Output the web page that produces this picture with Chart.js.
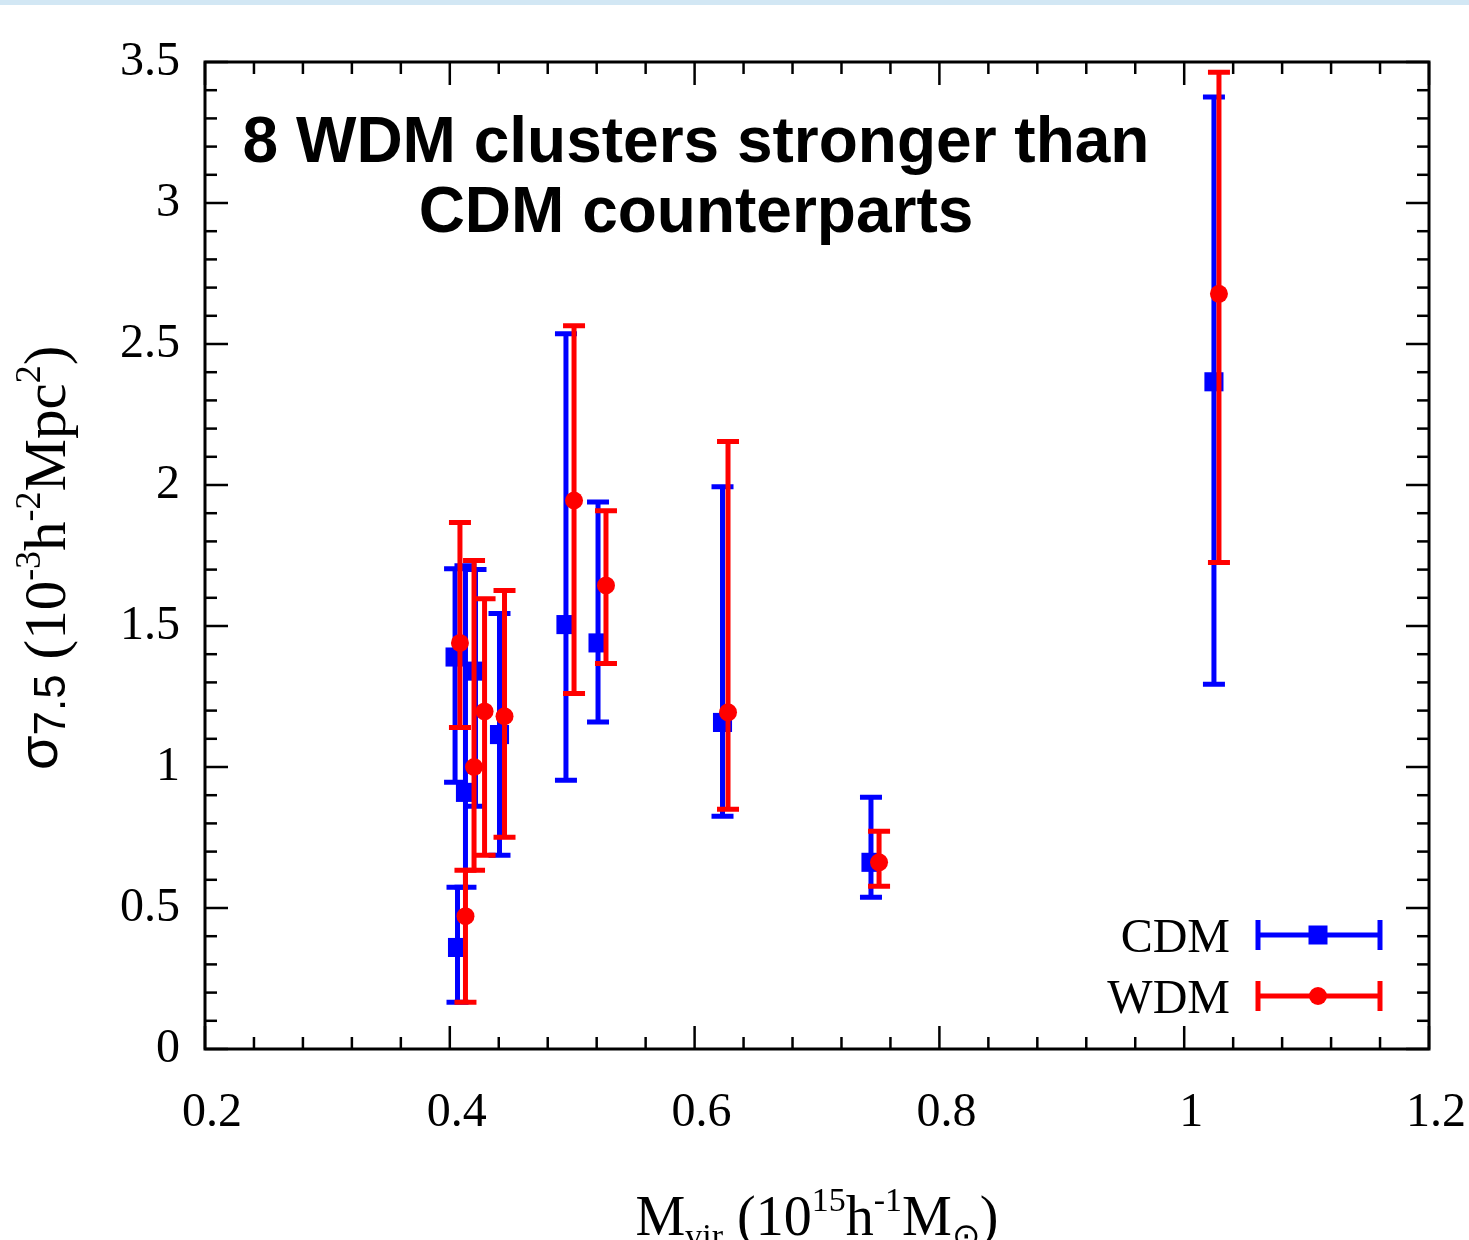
<!DOCTYPE html>
<html lang="en">
<head>
<meta charset="UTF-8">
<title>sigma 7.5 vs Mvir</title>
<script src="https://cdn.jsdelivr.net/npm/chart.js@4.4.0/dist/chart.umd.min.js"></script>
<style>
  html, body { margin: 0; padding: 0; background: #fff; }
  #wrap { position: relative; width: 1469px; height: 1240px; overflow: hidden; }
  #band { position: absolute; left: 0; top: 0; width: 1469px; height: 5px; background: #d2e7f4; }
</style>
</head>
<body>
<div id="wrap">
  <canvas id="chart" width="1469" height="1240"></canvas>
  <div id="band"></div>
</div>
<script>
const seriesNames = ["CDM", "WDM"];

// CDM clusters: mass, sigma and the low / high ends of the error bar
const cdmMass  = [0.4043, 0.4063, 0.4128, 0.4210, 0.4406, 0.4949, 0.5211, 0.6228, 0.7441, 1.0243];
const cdmSigma = [1.39, 0.36, 0.91, 1.34, 1.115, 1.505, 1.44, 1.158, 0.662, 2.366];
const cdmLow   = [0.946, 0.166, 0.574, 0.861, 0.687, 0.953, 1.16, 0.825, 0.538, 1.293];
const cdmHigh  = [1.703, 0.574, 1.714, 1.70, 1.544, 2.536, 1.94, 1.994, 0.893, 3.376];

// WDM clusters
const wdmMass  = [0.4083, 0.4128, 0.4198, 0.4284, 0.4447, 0.5015, 0.5276, 0.6273, 0.7507, 1.0284];
const wdmSigma = [1.44, 0.471, 1.0, 1.197, 1.18, 1.945, 1.644, 1.194, 0.662, 2.678];
const wdmLow   = [1.14, 0.166, 0.634, 0.687, 0.751, 1.261, 1.367, 0.850, 0.577, 1.725];
const wdmHigh  = [1.867, 0.634, 1.732, 1.597, 1.626, 2.565, 1.909, 2.154, 0.772, 3.464];

const xTicks = [0.2, 0.4, 0.6, 0.8, 1, 1.2];
const yTicks = [0, 0.5, 1, 1.5, 2, 2.5, 3, 3.5];

const titleLines = ["8 WDM clusters stronger than", "CDM counterparts"];

const SERIF = "'Liberation Serif', 'Times New Roman', serif";
const SANS = "'Liberation Sans', Arial, sans-serif";

// draws text pieces one after another (for sub/superscripts)
function drawParts(ctx, parts, x, y) {
  let cx = x;
  parts.forEach(p => {
    ctx.font = p.font;
    ctx.fillText(p.t, cx, y + (p.dy || 0));
    cx += ctx.measureText(p.t).width;
  });
  return cx - x;
}
function partsWidth(ctx, parts) {
  let w = 0;
  parts.forEach(p => { ctx.font = p.font; w += ctx.measureText(p.t).width; });
  return w;
}

const errorBarPlugin = {
  id: "errorBars",
  beforeDatasetDraw(chart, args) {
    const ds = chart.data.datasets[args.index];
    const { ctx, scales: { x, y } } = chart;
    ctx.save();
    ctx.strokeStyle = ds.borderColor;
    ctx.lineWidth = 5;
    ds.data.forEach((p, i) => {
      const px = x.getPixelForValue(p.x);
      const top = y.getPixelForValue(ds.hi[i]);
      const bot = y.getPixelForValue(ds.lo[i]);
      ctx.beginPath();
      ctx.moveTo(px, top); ctx.lineTo(px, bot);
      ctx.moveTo(px - 11, top); ctx.lineTo(px + 11, top);
      ctx.moveTo(px - 11, bot); ctx.lineTo(px + 11, bot);
      ctx.stroke();
    });
    ctx.restore();
  }
};

const framePlugin = {
  id: "frame",
  afterDraw(chart) {
    const { ctx, chartArea: a, scales: { x, y } } = chart;
    ctx.save();
    ctx.strokeStyle = "#000";
    ctx.lineWidth = 2.5;
    const seg = (x1, y1, x2, y2) => { ctx.beginPath(); ctx.moveTo(x1, y1); ctx.lineTo(x2, y2); ctx.stroke(); };
    for (let k = 0; k <= 25; k++) {
      const px = x.getPixelForValue(0.2 + k * 0.04);
      const len = k % 5 === 0 ? 23 : 12;
      seg(px, a.bottom, px, a.bottom - len);
      seg(px, a.top, px, a.top + len);
    }
    for (let k = 0; k <= 35; k++) {
      const py = y.getPixelForValue(k * 0.1);
      const len = k % 5 === 0 ? 23 : 12;
      seg(a.left, py, a.left + len, py);
      seg(a.right, py, a.right - len, py);
    }
    ctx.lineWidth = 3;
    ctx.strokeRect(a.left, a.top, a.right - a.left, a.bottom - a.top);

    // title
    ctx.fillStyle = "#000";
    ctx.textAlign = "center";
    ctx.textBaseline = "alphabetic";
    ctx.font = "bold 64px " + SANS;
    ctx.fillText(titleLines[0], 696, 162);
    ctx.fillText(titleLines[1], 696, 232);

    // legend
    const rows = [935, 996];
    chart.data.datasets.forEach((ds, i) => {
      const cy = rows[i];
      ctx.textAlign = "right";
      ctx.font = "48px " + SERIF;
      ctx.fillStyle = "#000";
      ctx.fillText(ds.label, 1230, cy + 17);
      ctx.strokeStyle = ds.borderColor;
      ctx.lineWidth = 5;
      seg(1258, cy, 1380, cy);
      seg(1258, cy - 15, 1258, cy + 15);
      seg(1380, cy - 15, 1380, cy + 15);
      ctx.fillStyle = ds.backgroundColor;
      if (ds.pointStyle === "rect") {
        ctx.fillRect(1318 - 9.5, cy - 9.5, 19, 19);
      } else {
        ctx.beginPath(); ctx.arc(1318, cy, 9, 0, Math.PI * 2); ctx.fill();
      }
    });

    // x axis title
    ctx.fillStyle = "#000";
    ctx.textAlign = "left";
    const big = "56px " + SERIF, small = "34px " + SERIF;
    const xParts = [
      { t: "M", font: big }, { t: "vir", font: small, dy: 12 },
      { t: " (10", font: big }, { t: "15", font: small, dy: -24 },
      { t: "h", font: big }, { t: "-1", font: small, dy: -24 },
      { t: "M", font: big }, { t: "\u2299", font: small, dy: 12 },
      { t: ")", font: big }
    ];
    const xw = partsWidth(ctx, xParts);
    drawParts(ctx, xParts, 817 - xw / 2, 1235);

    // y axis title
    ctx.save();
    ctx.translate(65, 770);
    ctx.rotate(-Math.PI / 2);
    const ybig = "59px " + SERIF, ysmall = "36px " + SERIF;
    const yParts = [
      { t: "\u03C3", font: "56px " + SANS, dy: -8 }, { t: "7.5", font: "44px " + SANS },
      { t: " (10", font: ybig }, { t: "-3", font: ysmall, dy: -25 },
      { t: "h", font: ybig }, { t: "-2", font: ysmall, dy: -25 },
      { t: "Mpc", font: ybig }, { t: "2", font: ysmall, dy: -25 },
      { t: ")", font: ybig }
    ];
    drawParts(ctx, yParts, 0, 0);
    ctx.restore();
    ctx.restore();
  }
};

const whiteBg = {
  id: "whiteBg",
  beforeDraw(chart) {
    const { ctx } = chart;
    ctx.save();
    ctx.fillStyle = "#fff";
    ctx.fillRect(0, 0, chart.width, chart.height);
    ctx.restore();
  }
};

new Chart(document.getElementById("chart"), {
  type: "scatter",
  data: {
    datasets: [
      {
        label: seriesNames[0],
        data: cdmMass.map((m, i) => ({ x: m, y: cdmSigma[i] })),
        lo: cdmLow, hi: cdmHigh,
        backgroundColor: "#0000ff", borderColor: "#0000ff",
        pointStyle: "rect", pointRadius: 13.5, pointBorderWidth: 0, order: 2
      },
      {
        label: seriesNames[1],
        data: wdmMass.map((m, i) => ({ x: m, y: wdmSigma[i] })),
        lo: wdmLow, hi: wdmHigh,
        backgroundColor: "#ff0000", borderColor: "#ff0000",
        pointStyle: "circle", pointRadius: 9, pointBorderWidth: 0, order: 1
      }
    ]
  },
  options: {
    responsive: false,
    animation: false,
    layout: { padding: { top: 62, right: 40, left: 0, bottom: 0 } },
    plugins: { legend: { display: false }, tooltip: { enabled: false } },
    scales: {
      x: {
        type: "linear", min: 0.2, max: 1.2,
        grid: { display: false, drawTicks: false }, border: { display: false },
        afterBuildTicks: s => { s.ticks = xTicks.map(v => ({ value: v })); },
        afterFit: s => { s.height = 191; s.paddingLeft = 0; s.paddingRight = 0; },
        ticks: { font: { family: SERIF, size: 48 }, color: "#000", padding: 36, labelOffset: 7, maxRotation: 0, autoSkip: false, callback: v => String(v) }
      },
      y: {
        type: "linear", min: 0, max: 3.5,
        grid: { display: false, drawTicks: false }, border: { display: false },
        afterBuildTicks: s => { s.ticks = yTicks.map(v => ({ value: v })); },
        afterFit: s => { s.width = 205; s.paddingTop = 0; s.paddingBottom = 0; },
        ticks: { font: { family: SERIF, size: 48 }, color: "#000", padding: 25, autoSkip: false, callback: v => String(v) }
      }
    }
  },
  plugins: [whiteBg, errorBarPlugin, framePlugin]
});
</script>
</body>
</html>
